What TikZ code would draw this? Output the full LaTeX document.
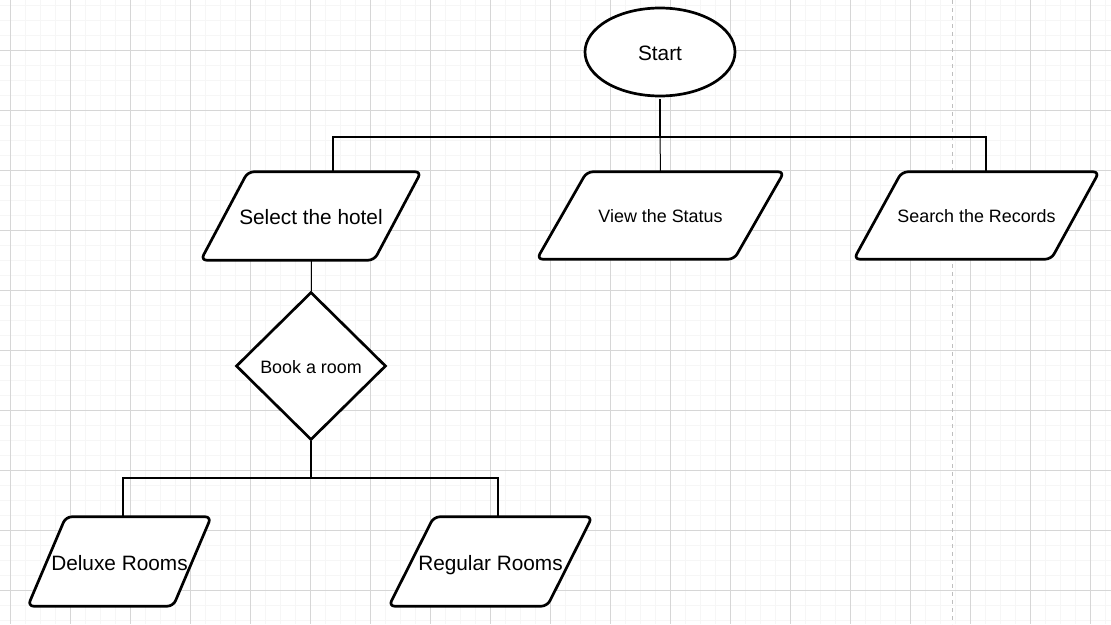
\documentclass[tikz,border=0pt]{standalone}
\usepackage{fontspec}
\setmainfont{Liberation Sans}
\usetikzlibrary{shapes.geometric}
\definecolor{majorgrid}{RGB}{214,214,214}
\definecolor{minorgrid}{RGB}{246,246,246}
\definecolor{dashgray}{RGB}{190,190,190}
\pgfdeclarelayer{gridlayer}
\pgfdeclarelayer{shapelayer}
\pgfsetlayers{gridlayer,shapelayer,main}
\begin{document}
\begin{tikzpicture}[x=1pt,y=-1pt,
  thickline/.style={line width=2.7pt},
  thinline/.style={line width=1pt},
  outline/.style={line width=2.7pt, rounded corners=6pt, fill=white, line join=round},
  bigtext/.style={font=\fontsize{20.8}{24}\selectfont, text height=17.5pt, text depth=0pt},
  smalltext/.style={font=\fontsize{17.9}{21}\selectfont, text height=14.8pt, text depth=0pt},
  parabox/.style={rectangle, inner sep=0pt, text=black},
  solidshape/.style={draw, line width=2.7pt, fill=white, inner sep=0pt, text=black},
]
\useasboundingbox (0,0) rectangle (1111,624);
\begin{pgfonlayer}{gridlayer}
\fill[white] (0,0) rectangle (1111,624);
\foreach \x in {-5,10,...,1115} \draw[minorgrid, line width=1pt] (\x,0) -- (\x,624);
\foreach \y in {5,20,...,620} \draw[minorgrid, line width=1pt] (0,\y) -- (1111,\y);
\foreach \x in {10,70,...,1090} \draw[majorgrid, line width=1pt] (\x,0) -- (\x,624);
\foreach \y in {50,110,...,590} \draw[majorgrid, line width=1pt] (0,\y) -- (1111,\y);
\draw[dashgray, dash pattern=on 4pt off 4pt, line width=1pt] (952,0) -- (952,624);
\end{pgfonlayer}

% nodes
\node[ellipse, solidshape, minimum width=150pt, minimum height=88pt, bigtext] (start) at (660,52) {Start};
\node[parabox, minimum width=220pt, minimum height=88pt, bigtext] (hotel) at (311,216) {Select the hotel};
\node[parabox, minimum width=247pt, minimum height=87pt, smalltext] (view) at (660.5,215.5) {View the Status};
\node[parabox, minimum width=245pt, minimum height=87pt, smalltext] (search) at (976.5,215.5) {Search the Records};
\node[diamond, solidshape, minimum width=150pt, minimum height=148pt, smalltext] (book) at (311,366) {Book a room};
\node[parabox, minimum width=183pt, minimum height=89pt, bigtext] (deluxe) at (119.5,561.5) {Deluxe Rooms};
\node[parabox, minimum width=203pt, minimum height=89pt, bigtext] (regular) at (490.5,561.5) {Regular Rooms};

\begin{pgfonlayer}{shapelayer}
\foreach \n/\s in {hotel/47,view/50,search/48,deluxe/38,regular/45}
  \draw[outline] ([xshift=\s pt]\n.north west) -- (\n.north east) -- ([xshift=-\s pt]\n.south east) -- (\n.south west) -- cycle;
\end{pgfonlayer}

% connectors
\coordinate (b1) at (660,137);
\coordinate (jl) at (333,137);
\coordinate (jr) at (986,137);
\coordinate (b2) at (311,478);
\coordinate (kl) at (123,478);
\coordinate (kr) at (498,478);
\draw[thickline, shorten <=2pt] (start.south) -- (b1);
\draw[thinline] (b1) -- (view.north);
\draw[thickline] (jl |- hotel.north) -- (jl) -- (jr) -- (jr |- search.north);
\draw[thinline] (hotel.south) -- (book.north);
\draw[thickline] (book.south) -- (b2);
\draw[thickline] (kl |- deluxe.north) -- (kl) -- (kr) -- (kr |- regular.north);
\end{tikzpicture}
\end{document}
